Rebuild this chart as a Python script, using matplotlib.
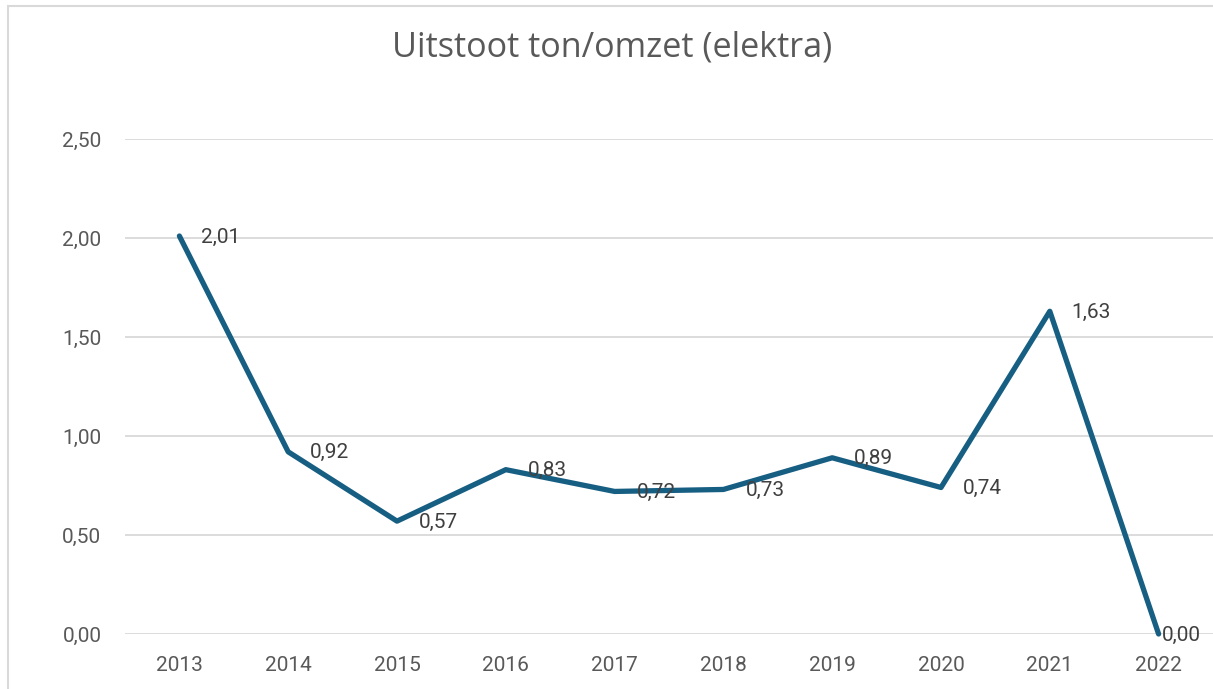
import matplotlib
matplotlib.use("Agg")
import matplotlib.pyplot as plt
from matplotlib.patches import Rectangle

years = ["2013", "2014", "2015", "2016", "2017", "2018", "2019", "2020", "2021", "2022"]
values = [2.01, 0.92, 0.57, 0.83, 0.72, 0.73, 0.89, 0.74, 1.63, 0.00]
yticks = [0.0, 0.5, 1.0, 1.5, 2.0, 2.5]
title = "Uitstoot ton/omzet (elektra)"

plt.rcParams['font.family'] = ['Roboto', 'DejaVu Sans']

W, H = 1213, 689
fig = plt.figure(figsize=(W / 100, H / 100), dpi=100)
fig.patch.set_facecolor("white")

# outer chart border (partly cropped)
fig.patches.append(Rectangle((8 / W, -0.05), 1.1, 1 - 6 / H + 0.05,
                             transform=fig.transFigure, fill=False,
                             edgecolor="#d9d9d9", linewidth=1.5, zorder=0))

ax = fig.add_axes([125 / W, (H - 634) / H, (W - 125) / W, (634 - 139) / H])
x = list(range(len(years)))
ax.plot(x, values, color="#175E83", linewidth=3.8, solid_joinstyle="round",
        solid_capstyle="round", zorder=3, clip_on=False)

ax.set_xlim(-0.5, len(years) - 0.5)
ax.set_ylim(0, 2.5)
ax.set_yticks(yticks)
ax.set_yticklabels([f"{v:.2f}".replace(".", ",") for v in yticks])
ax.set_xticks(x)
ax.set_xticklabels(years)
ax.grid(axis="y", color="#d9d9d9", linewidth=1.3, zorder=0)
ax.set_axisbelow(True)
for s in ax.spines.values():
    s.set_visible(False)
ax.tick_params(axis="both", length=0, labelsize=15, colors="#595959")
ax.tick_params(axis="y", pad=17)
ax.tick_params(axis="x", pad=16)

for i, v in enumerate(values):
    off = 3 if i == len(values) - 1 else 22
    ax.annotate(f"{v:.2f}".replace(".", ","), (i, v), xytext=(off, -1),
                textcoords="offset pixels", ha="left", va="center",
                fontsize=15, color="#404040", zorder=4, annotation_clip=False)

fig.text(612 / W, 1 - 57 / H, title, ha="center", va="baseline",
         fontsize=24.6, color="#595959", family=["Open Sans", "DejaVu Sans"])

fig.savefig("out.png", dpi=100)
